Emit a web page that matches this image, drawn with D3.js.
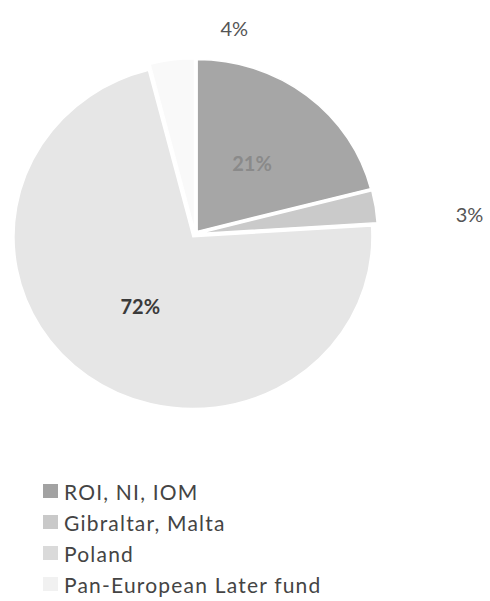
<!DOCTYPE html>
<html lang="en">
<head>
    <meta charset="UTF-8">
    <title>Fund split</title>
    <script src="https://d3js.org/d3.v7.min.js"></script>
    <style>
        body { margin: 0; background: #fff; }
        svg text { font-family: Lato, "Open Sans", sans-serif; }
    </style>
</head>
<body>
    <div id="chart"></div>
    <script>
        // chart data
        const categories = ["ROI, NI, IOM", "Gibraltar, Malta", "Poland", "Pan-European Later fund"];
        const shares = [21, 3, 72, 4];
        const shareLabels = ["21%", "3%", "72%", "4%"];
        const sliceColors = ["#a6a6a6", "#cacaca", "#e6e6e6", "#f9f9f9"];
        const swatchColors = ["#a2a2a2", "#c9c9c9", "#dadada", "#f1f1f1"];

        const width = 490, height = 601;
        const cx = 195, cy = 234, r = 179, squash = 0.96;
        const explode = 3.5;

        const svg = d3.select("#chart").append("svg")
            .attr("width", width)
            .attr("height", height);

        const pie = d3.pie().sort(null).value(d => d);
        const arcs = pie(shares);
        const arc = d3.arc().innerRadius(0).outerRadius(r);
        const labelArc = d3.arc().innerRadius(r * 0.52).outerRadius(r * 0.52);
        const outerArc = d3.arc().innerRadius(r + 26).outerRadius(r + 26);

        // pie (slightly squashed like the scanned original)
        const g = svg.append("g")
            .attr("transform", `translate(${cx},${cy}) scale(1,${squash})`);

        g.selectAll("path")
            .data(arcs)
            .enter()
            .append("path")
            .attr("d", arc)
            .attr("transform", d => {
                const a = (d.startAngle + d.endAngle) / 2;
                return `translate(${Math.sin(a) * explode},${-Math.cos(a) * explode})`;
            })
            .style("fill", (d, i) => sliceColors[i])
            .style("stroke", "#fff")
            .style("stroke-width", 1.5);

        // data labels: big slices inside, small ones outside with a nudge
        const nudge = { 1: [72, 11], 3: [65, -11] };
        const labelStyle = [
            { fill: "#8a8a8a", weight: 700 },
            { fill: "#555", weight: 400 },
            { fill: "#3a3a3a", weight: 700 },
            { fill: "#555", weight: 400 }
        ];

        svg.append("g")
            .selectAll("text")
            .data(arcs)
            .enter()
            .append("text")
            .attr("x", (d, i) => {
                const c = shares[i] > 10 ? labelArc.centroid(d) : outerArc.centroid(d);
                return cx + c[0] + (nudge[i] ? nudge[i][0] : 0);
            })
            .attr("y", (d, i) => {
                const c = shares[i] > 10 ? labelArc.centroid(d) : outerArc.centroid(d);
                return cy + c[1] * squash + (nudge[i] ? nudge[i][1] : 0);
            })
            .attr("text-anchor", "middle")
            .attr("dominant-baseline", "central")
            .style("font-size", "20px")
            .style("fill", (d, i) => labelStyle[i].fill)
            .style("font-weight", (d, i) => labelStyle[i].weight)
            .text((d, i) => shareLabels[i]);

        // legend
        const legend = svg.append("g").attr("transform", "translate(43,491)");
        const rowY = d3.scalePoint().domain(categories).range([0, 93]);

        const rows = legend.selectAll("g")
            .data(categories)
            .enter()
            .append("g")
            .attr("transform", d => `translate(0,${rowY(d)})`);

        rows.append("rect")
            .attr("x", 0)
            .attr("y", -7)
            .attr("width", 15)
            .attr("height", 14)
            .style("fill", (d, i) => swatchColors[i]);

        rows.append("text")
            .attr("x", 21)
            .attr("y", 0)
            .attr("dominant-baseline", "central")
            .style("font-size", "21px")
            .style("letter-spacing", "1.2px")
            .style("fill", "#444")
            .text(d => d);
    </script>
</body>
</html>
